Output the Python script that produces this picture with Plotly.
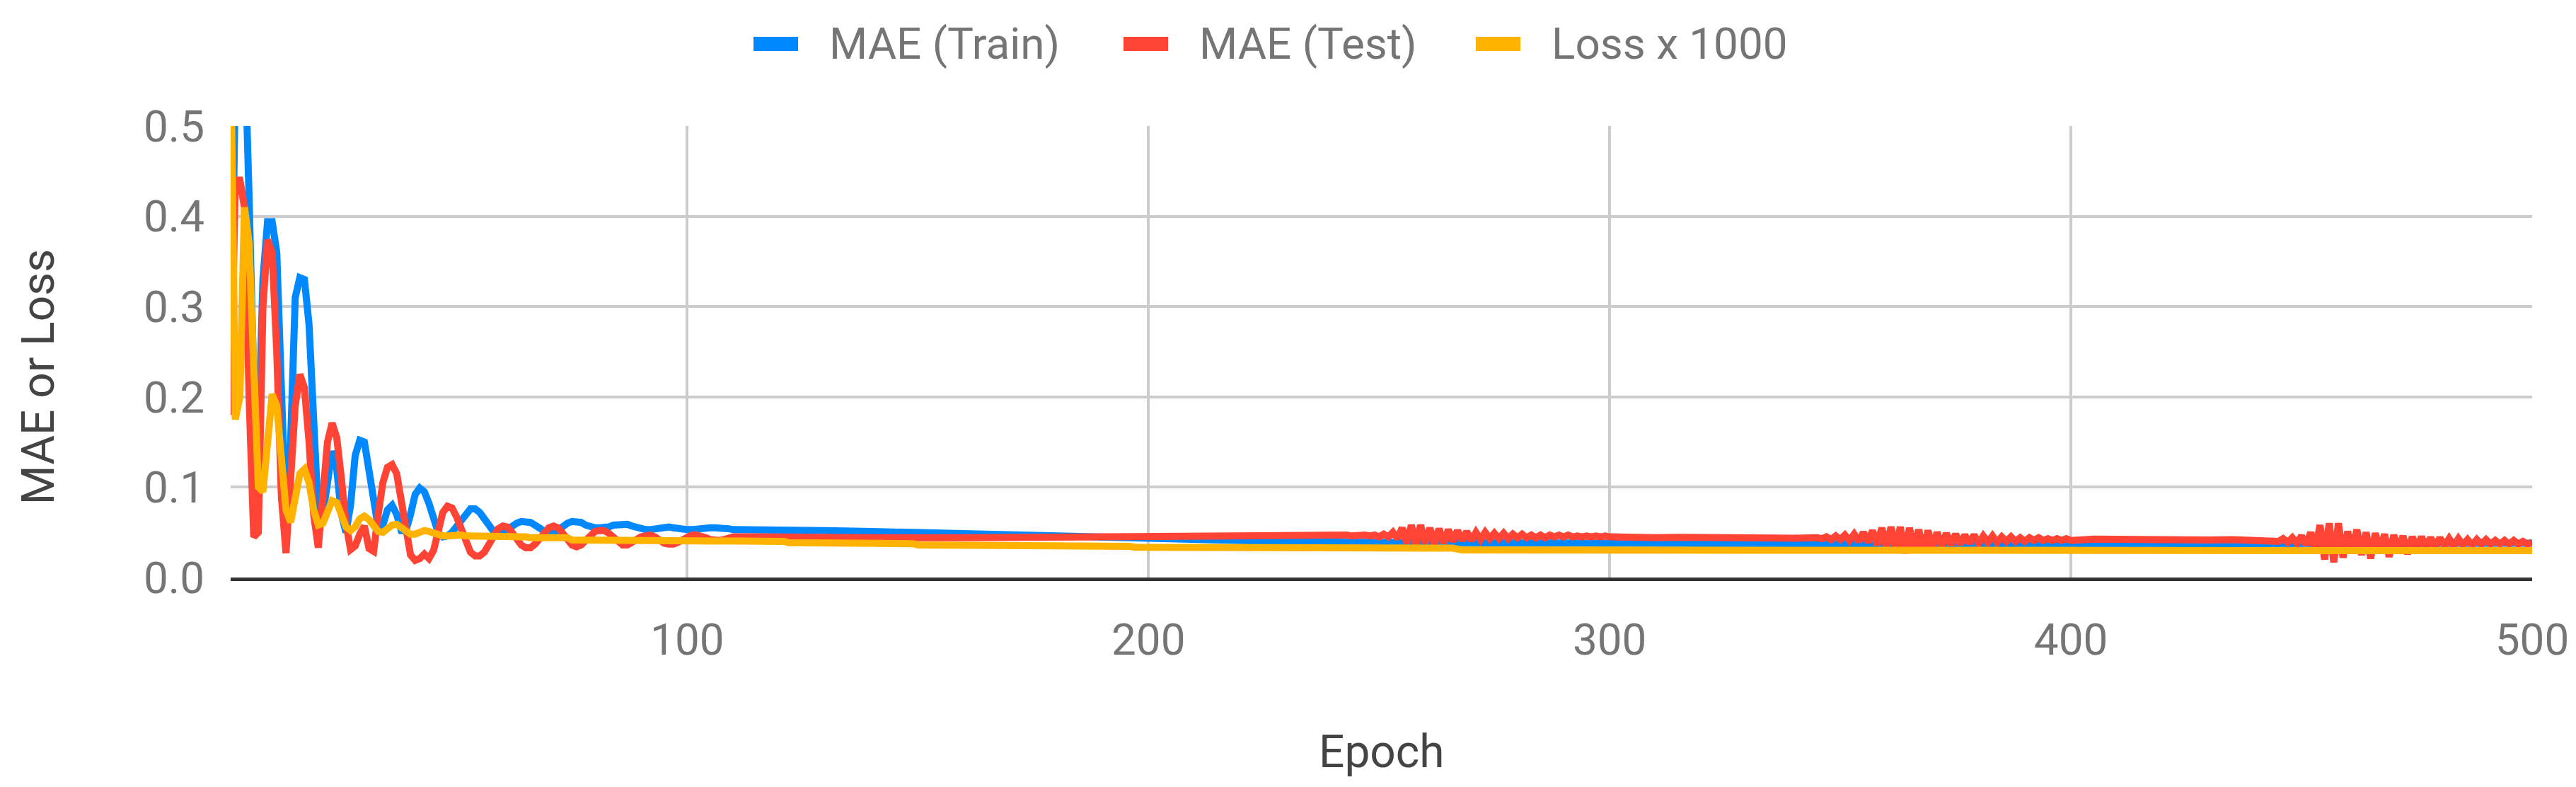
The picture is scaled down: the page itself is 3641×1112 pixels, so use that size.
import plotly.graph_objects as go

# ---------------- data: epochs 1-110, one value per epoch ----------------
epochs_early = list(range(1, 111))

train_early = [
    0.19, 0.55, 0.65, 0.60, 0.42, 0.22, 0.15, 0.33, 0.394, 0.394,
    0.36, 0.18, 0.06, 0.15, 0.31, 0.332, 0.33, 0.28, 0.16, 0.07,
    0.07, 0.11, 0.14, 0.12, 0.07, 0.05, 0.08, 0.135, 0.152, 0.15,
    0.12, 0.08, 0.055, 0.058, 0.075, 0.08, 0.07, 0.052, 0.052, 0.07,
    0.092, 0.099, 0.095, 0.082, 0.065, 0.05, 0.045, 0.046, 0.05, 0.057,
    0.065, 0.072, 0.076, 0.076, 0.072, 0.065, 0.057, 0.051, 0.049, 0.05,
    0.053, 0.057, 0.06, 0.062, 0.062, 0.061, 0.058, 0.054, 0.05, 0.048,
    0.049, 0.053, 0.057, 0.06, 0.062, 0.062, 0.061, 0.058, 0.056, 0.055,
    0.055, 0.055, 0.056, 0.058, 0.059, 0.059, 0.059, 0.057, 0.055, 0.054,
    0.053, 0.053, 0.054, 0.055, 0.056, 0.056, 0.055, 0.054, 0.053, 0.053,
    0.053, 0.054, 0.055, 0.055, 0.055, 0.055, 0.055, 0.054, 0.054, 0.053,
]

test_early = [
    0.18, 0.44, 0.44, 0.41, 0.20, 0.045, 0.05, 0.30, 0.374, 0.36,
    0.25, 0.09, 0.027, 0.10, 0.19, 0.225, 0.21, 0.15, 0.07, 0.033,
    0.09, 0.15, 0.171, 0.155, 0.11, 0.06, 0.031, 0.035, 0.048, 0.057,
    0.032, 0.029, 0.07, 0.105, 0.122, 0.125, 0.115, 0.085, 0.05, 0.025,
    0.019, 0.021, 0.026, 0.021, 0.03, 0.05, 0.072, 0.079, 0.077, 0.067,
    0.052, 0.037, 0.028, 0.024, 0.024, 0.028, 0.036, 0.046, 0.054, 0.057,
    0.056, 0.05, 0.043, 0.036, 0.033, 0.033, 0.037, 0.044, 0.051, 0.055,
    0.057, 0.055, 0.049, 0.041, 0.036, 0.034, 0.036, 0.041, 0.047, 0.051,
    0.052, 0.052, 0.049, 0.044, 0.039, 0.036, 0.036, 0.038, 0.042, 0.045,
    0.047, 0.047, 0.045, 0.041, 0.038, 0.037, 0.037, 0.039, 0.042, 0.045,
    0.047, 0.047, 0.046, 0.044, 0.042, 0.041, 0.041, 0.042, 0.044, 0.045,
]

loss_early = [
    0.60, 0.175, 0.20, 0.41, 0.37, 0.22, 0.10, 0.095, 0.15, 0.203,
    0.19, 0.13, 0.075, 0.061, 0.09, 0.115, 0.12, 0.105, 0.075, 0.058,
    0.06, 0.075, 0.085, 0.083, 0.07, 0.056, 0.052, 0.056, 0.065, 0.068,
    0.064, 0.056, 0.051, 0.05, 0.054, 0.058, 0.059, 0.056, 0.051, 0.048,
    0.048, 0.05, 0.052, 0.051, 0.049, 0.047, 0.046, 0.046, 0.047, 0.047,
    0.047, 0.046, 0.046, 0.046, 0.045, 0.045, 0.045, 0.045, 0.045, 0.045,
    0.045, 0.045, 0.045, 0.045, 0.045, 0.044, 0.044, 0.044, 0.044, 0.044,
    0.044, 0.044, 0.044, 0.044, 0.0415, 0.0415, 0.0415, 0.0415, 0.0415, 0.0415,
    0.0415, 0.0415, 0.0415, 0.0415, 0.0415, 0.0415, 0.0415, 0.0415, 0.0415, 0.0415,
    0.0415, 0.0415, 0.0415, 0.0415, 0.0415, 0.0415, 0.0415, 0.0415, 0.0415, 0.0415,
    0.0415, 0.0415, 0.0415, 0.0415, 0.0415, 0.0415, 0.0415, 0.040, 0.040, 0.040,
]

# ---------------- data: epochs 111-500 ----------------
train_late_epochs = [120, 130, 140, 155, 170, 185, 200, 220, 243, 270, 300, 350, 400, 450, 500]
train_late = [0.053, 0.052, 0.051, 0.049, 0.047, 0.045, 0.042, 0.041, 0.039, 0.039,
              0.038, 0.037, 0.037, 0.037, 0.038]

loss_late_epochs = [121, 122, 135, 136, 149, 150, 164, 165, 180, 181, 196, 197,
                    230, 266, 268, 348, 350, 500]
loss_late = [0.040, 0.0385, 0.0385, 0.0375, 0.0375, 0.036, 0.036, 0.035, 0.035, 0.0345,
             0.0345, 0.0335, 0.033, 0.0325, 0.0305, 0.0305, 0.0297, 0.0297]

test_mid_epochs = [115, 125, 140, 160, 180, 200, 220, 235]
test_mid = [0.045, 0.044, 0.044, 0.044, 0.045, 0.0455, 0.047, 0.047]

test_burst1_epochs = list(range(243, 301))
test_burst1 = [
    0.047, 0.046, 0.047, 0.046, 0.047, 0.046, 0.047, 0.045, 0.048, 0.045,
    0.050, 0.043, 0.055, 0.038, 0.058, 0.036, 0.058, 0.038, 0.055, 0.037,
    0.054, 0.038, 0.053, 0.040, 0.052, 0.041, 0.051, 0.041, 0.050, 0.042,
    0.050, 0.043, 0.049, 0.043, 0.049, 0.043, 0.048, 0.044, 0.048, 0.044,
    0.047, 0.044, 0.047, 0.044, 0.047, 0.045, 0.047, 0.045, 0.047, 0.045,
    0.046, 0.045, 0.046, 0.045, 0.046, 0.045, 0.046, 0.045,
]

test_quiet2_epochs = [303, 306, 310, 315, 320, 325, 330, 335, 340]
test_quiet2 = [0.0445, 0.045, 0.044, 0.0445, 0.044, 0.0445, 0.0435, 0.044, 0.0435]

test_burst2_epochs = list(range(345, 401))
test_burst2 = [
    0.044, 0.043, 0.045, 0.042, 0.046, 0.042, 0.047, 0.041, 0.048, 0.040,
    0.050, 0.039, 0.052, 0.036, 0.055, 0.033, 0.056, 0.030, 0.056, 0.027,
    0.055, 0.030, 0.053, 0.028, 0.052, 0.033, 0.050, 0.035, 0.049, 0.036,
    0.048, 0.037, 0.047, 0.038, 0.047, 0.038, 0.046, 0.039, 0.046, 0.039,
    0.045, 0.040, 0.045, 0.040, 0.044, 0.040, 0.044, 0.041, 0.044, 0.041,
    0.043, 0.041, 0.043, 0.041, 0.043, 0.041,
]

test_quiet3_epochs = [405, 410, 415, 420, 425, 430, 435, 440]
test_quiet3 = [0.0425, 0.042, 0.0425, 0.042, 0.042, 0.0415, 0.042, 0.0415]

test_burst3_epochs = list(range(444, 501))
test_burst3 = [
    0.042, 0.040, 0.043, 0.039, 0.044, 0.038, 0.046, 0.036, 0.050, 0.030,
    0.058, 0.020, 0.060, 0.017, 0.060, 0.022, 0.051, 0.030, 0.053, 0.025,
    0.050, 0.021, 0.049, 0.028, 0.048, 0.023, 0.047, 0.030, 0.046, 0.026,
    0.045, 0.032, 0.045, 0.034, 0.044, 0.034, 0.044, 0.035, 0.043, 0.035,
    0.043, 0.036, 0.042, 0.036, 0.042, 0.037, 0.042, 0.037, 0.041, 0.037,
    0.041, 0.037, 0.041, 0.037, 0.040, 0.037, 0.039,
]

train_x = epochs_early + train_late_epochs
train_y = train_early + train_late
test_x = (epochs_early + test_mid_epochs + test_burst1_epochs + test_quiet2_epochs
          + test_burst2_epochs + test_quiet3_epochs + test_burst3_epochs)
test_y = (test_early + test_mid + test_burst1 + test_quiet2
          + test_burst2 + test_quiet3 + test_burst3)
loss_x = epochs_early + loss_late_epochs
loss_y = loss_early + loss_late

series_names = ['MAE (Train)', 'MAE (Test)', 'Loss x 1000']
series_colors = ['#0088ff', '#ff4436', '#ffb300']

x_ticks = [100, 200, 300, 400, 500]
y_ticks = [0.0, 0.1, 0.2, 0.3, 0.4, 0.5]
y_labels = ['0.0', '0.1', '0.2', '0.3', '0.4', '0.5']

# ---------------- figure ----------------
W, H = 3641, 1112
L, R, T, B = 318, 70, 170, 304
pw, ph = W - L - R, H - T - B

fig = go.Figure()
for xs, ys, name, color in zip([train_x, test_x, loss_x], [train_y, test_y, loss_y],
                               series_names, series_colors):
    fig.add_trace(go.Scatter(x=xs, y=ys, mode='lines', name=name, showlegend=False,
                             line=dict(color=color, width=10)))

# legend drawn by hand (wide swatches like the original), pixel positions -> paper
legend_swatch_left = [1057, 1580, 2078]
shapes, annotations = [], []
for left, name, color in zip(legend_swatch_left, series_names, series_colors):
    shapes.append(dict(type='rect', xref='paper', yref='paper',
                       x0=(left - L) / pw, x1=(left + 63 - L) / pw,
                       y0=(H - B - 64) / ph, y1=(H - B - 44) / ph,
                       fillcolor=color, line=dict(width=0)))
    annotations.append(dict(text=name, xref='paper', yref='paper',
                            x=(left + 105 - L) / pw, y=(H - B - 54) / ph,
                            xanchor='left', yanchor='middle', showarrow=False,
                            font=dict(size=62, color='#757575')))

annotations += [
    dict(text='Epoch', x=0.5, y=-0.387, xref='paper', yref='paper',
         xanchor='center', yanchor='middle', showarrow=False,
         font=dict(size=64, color='#444444')),
    dict(text='MAE or Loss', x=-0.0836, y=0.445, xref='paper', yref='paper',
         xanchor='center', yanchor='middle', showarrow=False, textangle=-90,
         font=dict(size=64, color='#444444')),
]

fig.update_layout(
    width=W, height=H,
    margin=dict(l=L, r=R, t=T, b=B),
    paper_bgcolor='white', plot_bgcolor='white',
    font=dict(family='Roboto', size=62, color='#757575'),
    showlegend=False,
    xaxis=dict(range=[1, 500], tickvals=x_ticks, showgrid=True, gridcolor='#cccccc',
               gridwidth=4, zeroline=False, showline=True, linecolor='#333333',
               linewidth=5, ticks='', ticklabelstandoff=30,
               tickfont=dict(size=62, color='#757575')),
    yaxis=dict(range=[0, 0.5], tickvals=y_ticks, ticktext=y_labels, showgrid=True,
               gridcolor='#cccccc', gridwidth=4, zeroline=False, ticks='',
               ticklabelstandoff=36, tickfont=dict(size=62, color='#757575')),
    shapes=shapes,
    annotations=annotations,
)

fig.write_html('out.html')
